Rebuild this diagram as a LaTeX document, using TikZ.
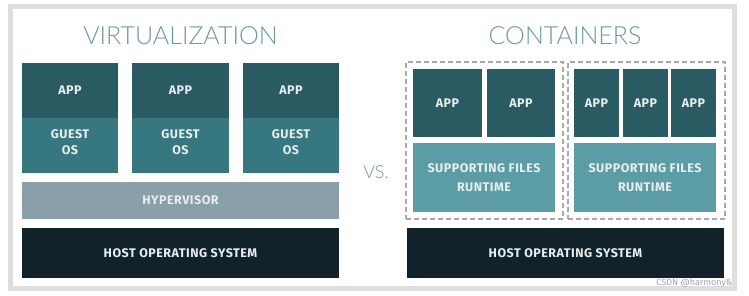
\documentclass[tikz,border=0pt]{standalone}
\usepackage{fontspec}
\setmainfont{Fira Sans}
\newfontfamily\titlefont{Lato}[UprightFont={* Light}]
\newfontfamily\labelfont{Fira Sans}[UprightFont={* Bold}, LetterSpace=4]
\definecolor{appc}{HTML}{2B5B62}
\definecolor{guestc}{HTML}{37777F}
\definecolor{sfc}{HTML}{5B9CA5}
\definecolor{hypc}{HTML}{8AA0A8}
\definecolor{hostc}{HTML}{11222A}
\definecolor{framec}{HTML}{DEDEDE}
\definecolor{titlec}{HTML}{6A9AA3}
\definecolor{lblc}{HTML}{E8EEF0}
\definecolor{dashc}{HTML}{A8A8A8}
\tikzset{
  blk/.style={inner sep=0pt, outer sep=0pt, align=center, text=lblc,
    font=\labelfont\fontsize{12.5}{16}\selectfont},
  appbox/.style={blk, fill=appc},
  guestbox/.style={blk, fill=guestc},
  sfbox/.style={blk, fill=sfc, font=\labelfont\fontsize{12.5}{19}\selectfont},
  hypbox/.style={blk, fill=hypc},
  hostbox/.style={blk, fill=hostc},
  ctbox/.style={draw=dashc, dash pattern=on 5pt off 3pt, line width=1.2pt, inner sep=0pt, outer sep=0pt},
  ttl/.style={text=titlec, font=\titlefont\fontsize{25}{28}\selectfont},
}
\begin{document}
\begin{tikzpicture}[x=1pt,y=-1pt]
\useasboundingbox[fill=white] (0,0) rectangle (749,296);
\draw[framec, line width=5pt] (10.5,6.5) rectangle (734.5,288.5);
% titles
\node[ttl] (tv) at (180.5,36) {VIRTUALIZATION};
\node[ttl] (tc) at (565,36) {CONTAINERS};
\node[text=titlec, font=\titlefont\fontsize{18}{20}\selectfont] (vs) at (376,172) {VS.};
% virtualization
\node[appbox, minimum width=96pt, minimum height=55pt] (a1) at (70,90.5) {APP};
\node[appbox, minimum width=97pt, minimum height=55pt] (a2) at (180.5,90.5) {APP};
\node[appbox, minimum width=96pt, minimum height=55pt] (a3) at (291,90.5) {APP};
\node[guestbox, minimum width=96pt, minimum height=55pt] (g1) at (70,145.5) {};
\node[guestbox, minimum width=97pt, minimum height=55pt] (g2) at (180.5,145.5) {};
\node[guestbox, minimum width=96pt, minimum height=55pt] (g3) at (291,145.5) {};
\node[blk] (g1t) at ([yshift=3pt]g1.center) {GUEST\\OS};
\node[blk] (g2t) at ([yshift=3pt]g2.center) {GUEST\\OS};
\node[blk] (g3t) at ([yshift=3pt]g3.center) {GUEST\\OS};
\node[hypbox, minimum width=317pt, minimum height=37pt] (hy) at (180.5,200.5) {HYPERVISOR};
\node[hostbox, minimum width=317pt, minimum height=50pt] (h1) at (180.5,253) {HOST OPERATING SYSTEM};
% containers
\node[ctbox, minimum width=157pt, minimum height=157pt] (c1) at (484.5,140.5) {};
\node[ctbox, minimum width=157pt, minimum height=157pt] (c2) at (646.5,140.5) {};
\node[appbox, minimum width=69pt, minimum height=68pt] (ca) at (447.5,103) {APP};
\node[appbox, minimum width=68pt, minimum height=68pt] (cb) at (521,103) {APP};
\node[appbox, minimum width=45pt, minimum height=68pt] (cc) at (596.5,103) {APP};
\node[appbox, minimum width=45pt, minimum height=68pt] (cd) at (645.5,103) {APP};
\node[appbox, minimum width=45pt, minimum height=68pt] (ce) at (693.5,103) {APP};
\node[sfbox, minimum width=142pt, minimum height=69pt] (s1) at (484,177.5) {SUPPORTING FILES\\RUNTIME};
\node[sfbox, minimum width=142pt, minimum height=69pt] (s2) at (645,177.5) {SUPPORTING FILES\\RUNTIME};
\node[hostbox, minimum width=317pt, minimum height=50pt] (h2) at (565.5,253) {HOST OPERATING SYSTEM};
% watermark
\node[text=black!35, font=\fontsize{9}{10}\selectfont, anchor=east] (wm) at (736,283) {CSDN @harmony\&};
\end{tikzpicture}
\end{document}
